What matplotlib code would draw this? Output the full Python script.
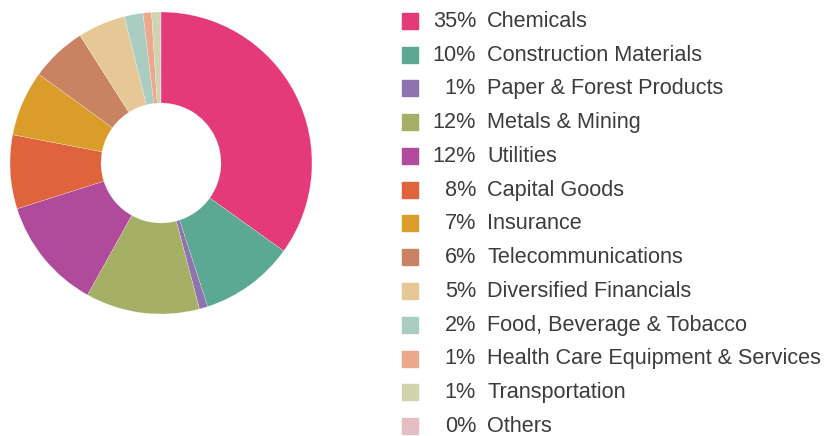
import matplotlib
matplotlib.use("Agg")
import matplotlib.pyplot as plt
from matplotlib.patches import Rectangle

# sector weights, read clockwise from 12 o'clock
sectors = ["Chemicals", "Construction Materials", "Paper & Forest Products",
           "Metals & Mining", "Utilities", "Capital Goods", "Insurance",
           "Telecommunications", "Diversified Financials", "Food, Beverage & Tobacco",
           "Health Care Equipment & Services", "Transportation", "Others"]
weights = [34.9, 10.1, 0.9, 12.2, 12.0, 7.9, 7.0, 6.0, 5.1, 2.0, 0.9, 0.9, 0.1]
pct_labels = ["35%", "10%", "1%", "12%", "12%", "8%", "7%", "6%", "5%", "2%", "1%", "1%", "0%"]
colors = ["#E43A79", "#5BA993", "#8E73AE", "#A5B066", "#B04A9B", "#DF633C", "#DB9D2A",
          "#C98262", "#E6C896", "#AACDC2", "#EBA88C", "#CFD4AE", "#E3BFC3"]

W, H = 826, 436
fig = plt.figure(figsize=(W / 100, H / 100), dpi=100)

# donut: centre (161,163) px, outer r 151, inner r 60
cx, cy, r = 161, 163, 151
ax = fig.add_axes([(cx - r) / W, (H - cy - r) / H, 2 * r / W, 2 * r / H])
ax.pie(weights, colors=colors, startangle=90, counterclock=False, radius=1,
       wedgeprops=dict(width=1 - 60 / 151, edgecolor="white", linewidth=0.15))
ax.set_xlim(-1, 1)
ax.set_ylim(-1, 1)

# legend drawn by hand
row0, step = 21, 33.75
txt_kw = dict(fontsize=15.6, color="#3c3c3c", va="center", family="Liberation Sans")
for i, (name, pct, c) in enumerate(zip(sectors, pct_labels, colors)):
    y = row0 + i * step
    fig.patches.append(Rectangle((402 / W, (H - y - 8) / H), 16 / W, 16 / H,
                                 transform=fig.transFigure, color=c))
    fig.text(476 / W, (H - y - 0.3) / H, pct, ha="right", **txt_kw)
    fig.text(487 / W, (H - y - 0.3) / H, name, ha="left", **txt_kw)

fig.savefig("out.png", dpi=100)
